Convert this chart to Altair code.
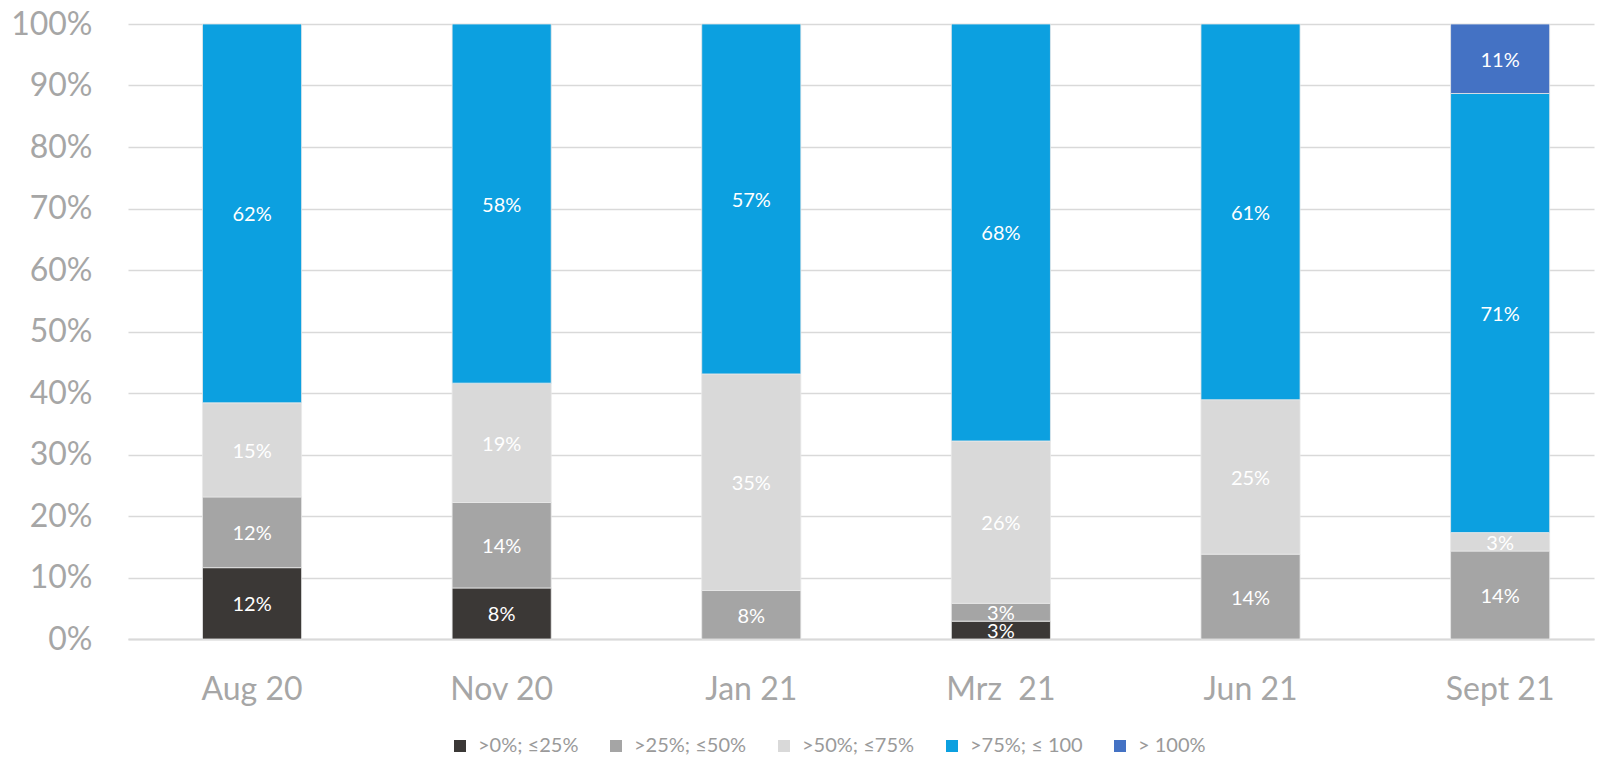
import altair as alt
import pandas as pd

months = ["Aug 20", "Nov 20", "Jan 21", "Mrz\u00a0 21", "Jun 21", "Sept 21"]
categories = [">0%; ≤25%", ">25%; ≤50%", ">50%; ≤75%", ">75%; ≤ 100", "> 100%"]
colors = ["#3b3836", "#a5a5a5", "#d9d9d9", "#0ca0e0", "#4472c4"]

s_0_25 = [0.116, 0.083, 0.0, 0.029, 0.0, 0.0]
s_25_50 = [0.115, 0.139, 0.079, 0.029, 0.138, 0.143]
s_50_75 = [0.153, 0.194, 0.352, 0.264, 0.251, 0.030]
s_75_100 = [0.616, 0.584, 0.569, 0.678, 0.611, 0.714]
s_100 = [0.0, 0.0, 0.0, 0.0, 0.0, 0.113]

y_ticks = [0, 0.1, 0.2, 0.3, 0.4, 0.5, 0.6, 0.7, 0.8, 0.9, 1.0]

series = [s_0_25, s_25_50, s_50_75, s_75_100, s_100]
rows = []
for ci, (cat, vals) in enumerate(zip(categories, series)):
    for m, v in zip(months, vals):
        rows.append({"month": m, "cat": cat, "idx": ci, "value": v})
df = pd.DataFrame(rows)

FONT = "Lato"
GRAY = "#a6a6a6"

x_enc = alt.X(
    "month:N",
    sort=months,
    scale=alt.Scale(paddingInner=0.603, paddingOuter=0.238, align=0.627),
    axis=alt.Axis(
        title=None, labelAngle=0, labelFontSize=32, labelColor=GRAY, labelFont=FONT,
        ticks=False, domainColor="#d9d9d9", domainWidth=2, labelPadding=35, grid=False,
    ),
)

base = (
    alt.Chart(df)
    .transform_filter("datum.value > 0")
    .transform_stack(
        stack="value", groupby=["month"], sort=[alt.SortField("idx", order="ascending")],
        as_=["y0", "y1"],
    )
    .transform_calculate(mid="(datum.y0 + datum.y1) / 2")
)

bars = base.mark_bar(stroke="#e8e8e8", strokeWidth=0.8).encode(
    x=x_enc,
    y=alt.Y(
        "y0:Q",
        scale=alt.Scale(domain=[0, 1], nice=False),
        axis=alt.Axis(
            title=None, values=y_ticks, format=".0%", labelFontSize=32, labelColor=GRAY,
            labelFont=FONT, ticks=False, domain=False, gridColor="#d9d9d9", gridWidth=1.5,
            labelPadding=36,
        ),
    ),
    y2="y1:Q",
    color=alt.Color(
        "cat:N",
        scale=alt.Scale(domain=categories, range=colors),
        legend=alt.Legend(
            title=None, orient="none", legendX=322, legendY=712, direction="horizontal",
            columns=5, symbolType="square", symbolSize=144, symbolStrokeWidth=0,
            labelFontSize=20, labelFont=FONT, labelColor="#9a9a9a", columnPadding=27,
            labelOffset=8, padding=0,
        ),
    ),
)

text = base.mark_text(color="white", fontSize=20, font=FONT, dy=2).encode(
    x=alt.X("month:N", sort=months),
    y=alt.Y("mid:Q"),
    text=alt.Text("value:Q", format=".0%"),
)

chart = (
    alt.layer(bars, text)
    .properties(
        width=1466, height=615,
        autosize=alt.AutoSizeParams(type="none"),
        padding={"left": 120, "top": 16, "right": 4, "bottom": 119},
    )
    .configure_view(stroke=None)
)

chart.save("out.html", embed_options={"renderer": "svg", "actions": False})
